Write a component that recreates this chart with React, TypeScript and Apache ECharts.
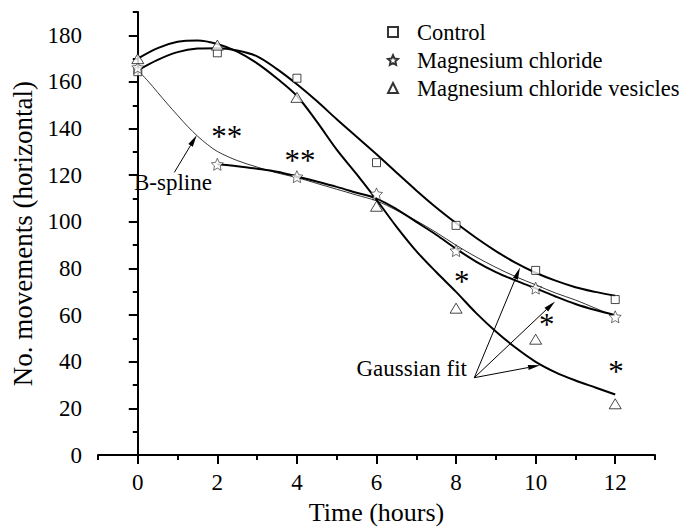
import React, { useEffect, useRef } from "react";
import * as echarts from "echarts";

// Measured points
const hours = [0, 2, 4, 6, 8, 10, 12];
const control = [164.4, 172.5, 161.6, 125.4, 98.5, 79.2, 66.7];
const mgChloride = [166.2, 124.7, 119.4, 112.0, 87.7, 71.6, 59.3];
const mgVesicles = [170.0, 175.8, 153.4, 106.7, 63.0, 49.7, 22.0];

// Gaussian fit curves
const fitX = [0, 0.5, 1, 1.5, 2, 2.5, 3, 3.5, 4, 4.5, 5, 5.5, 6, 6.5, 7, 7.5, 8, 8.5, 9, 9.5, 10, 10.5, 11, 11.5, 12];
const controlFit = [165, 169.5, 172.8, 174.3, 174.5, 173.5, 171, 165.5, 159, 151.8, 144, 136.5, 129, 121.2, 113.5, 106.2, 99.5, 93.2, 87.5, 82.4, 78.2, 74.8, 72, 70, 68.3];
const vesiclesFit = [170, 174.5, 177.2, 177.8, 176.3, 173, 168, 161.5, 154, 143, 131, 120.5, 109.5, 98, 87.5, 78.5, 70, 61, 53, 46, 40, 35.5, 32, 29, 26];
const chlorideFitX = [2, 2.5, 3, 3.5, 4, 4.5, 5, 5.5, 6, 6.5, 7, 7.5, 8, 8.5, 9, 9.5, 10, 10.5, 11, 11.5, 12];
const chlorideFit = [124.7, 123.9, 122.8, 121.5, 119.5, 117.3, 115, 112.5, 110, 105.5, 100, 94.5, 88.5, 83, 78.5, 74.8, 71.5, 68, 64.8, 62.2, 60];

// B-spline through Magnesium chloride points
const bsplineX = [0, 0.25, 0.5, 0.75, 1, 1.25, 1.5, 1.75, 2, 2.5, 3, 3.5, 4, 4.5, 5, 5.5, 6, 6.5, 7, 7.5, 8, 8.5, 9, 9.5, 10, 10.5, 11, 11.5, 12];
const bspline = [165, 160.5, 155.5, 150.5, 145.7, 141, 136.8, 133.2, 130.2, 126.3, 123.5, 121, 119, 116.5, 114, 111.5, 109, 105, 100.5, 95.5, 90, 85, 80.5, 76.5, 73, 69.5, 66.5, 63, 59.5];

// Axis ticks
const xMajorTicks = [0, 2, 4, 6, 8, 10, 12];
const xMinorTicks = [-1, 1, 3, 5, 7, 9, 11, 13];
const yMajorTicks = [0, 20, 40, 60, 80, 100, 120, 140, 160, 180];
const yMinorTicks = [10, 30, 50, 70, 90, 110, 130, 150, 170, 190];

const seriesNames = ["Control", "Magnesium chloride", "Magnesium chloride vesicles"];

// Annotations (data coordinates)
const noteLabels = ["**", "**", "*", "*", "*", "B-spline", "Gaussian fit"];
const noteX = [2.235, 4.077, 8.142, 10.278, 12.02, 0.885, 6.885];
const noteY = [136.8, 126.3, 74.3, 56.0, 35.9, 116.8, 37.2];

// Arrows: [fromX, fromY, toX, toY]
const arrows = [
  [0.918, 121.2, 1.481, 137.2],
  [8.458, 33.2, 9.607, 80.4],
  [8.458, 33.2, 10.487, 65.9],
  [8.458, 33.2, 10.11, 38.5],
];

const FONT = "Liberation Serif";
const STAR = "path://M50,0 L64.11,30.58 L97.55,34.55 L72.83,57.42 L79.39,90.45 L50,74 L20.61,90.45 L27.17,57.42 L2.45,34.55 L35.89,30.58 Z";

const pairs = (xs: number[], ys: number[]) => xs.map((x, i) => [x, ys[i]]);

export default function App() {
  const ref = useRef<HTMLDivElement>(null);
  useEffect(() => {
    if (!ref.current) return;
    document.body.style.margin = "0";
    const chart = echarts.init(ref.current, null, { renderer: "svg" });
    const markerStyle = { color: "#fff", borderColor: "#000", borderWidth: 0.9 };
    const fitLine = (data: number[][], width: number) => ({
      type: "line",
      data,
      smooth: 0.35,
      symbol: "none",
      showSymbol: false,
      silent: true,
      z: 2,
      lineStyle: { color: "#000", width },
    });
    const axisCommon = {
      type: "value",
      axisLine: { show: true, lineStyle: { color: "#000", width: 2 } },
      splitLine: { show: false },
    };
    chart.setOption({
      animation: false,
      backgroundColor: "#fff",
      textStyle: { fontFamily: FONT, color: "#000" },
      grid: { left: 98, top: 12, right: 30, bottom: 68, containLabel: false },
      legend: {
        data: seriesNames,
        orient: "vertical",
        left: 382,
        top: 13,
        itemWidth: 10,
        itemHeight: 10,
        itemGap: 0,
        selectedMode: false,
        textStyle: { fontFamily: FONT, fontSize: 22.5, color: "#000", lineHeight: 28, padding: [0, 0, 0, 14] },
      },
      xAxis: [
        {
          ...axisCommon,
          min: -1,
          max: 13,
          name: "Time (hours)",
          nameLocation: "middle",
          nameGap: 38,
          nameTextStyle: { fontFamily: FONT, fontSize: 26, color: "#000" },
          axisTick: { show: true, customValues: xMajorTicks, length: 9, lineStyle: { color: "#000", width: 2 } },
          axisLabel: { customValues: xMajorTicks, margin: 16, fontFamily: FONT, fontSize: 23, color: "#000" },
        },
        {
          ...axisCommon,
          min: -1,
          max: 13,
          position: "bottom",
          axisLine: { show: false },
          axisTick: { show: true, customValues: xMinorTicks, length: 5, lineStyle: { color: "#000", width: 2 } },
          axisLabel: { show: false },
        },
      ],
      yAxis: [
        {
          ...axisCommon,
          min: 0,
          max: 190,
          name: "No. movements (horizontal)",
          nameLocation: "middle",
          nameGap: 60,
          nameTextStyle: { fontFamily: FONT, fontSize: 27, color: "#000" },
          axisTick: { show: true, customValues: yMajorTicks, length: 9, lineStyle: { color: "#000", width: 2 } },
          axisLabel: { customValues: yMajorTicks, margin: 16, fontFamily: FONT, fontSize: 23, color: "#000" },
        },
        {
          ...axisCommon,
          min: 0,
          max: 190,
          position: "left",
          axisLine: { show: false },
          axisTick: { show: true, customValues: yMinorTicks, length: 5, lineStyle: { color: "#000", width: 2 } },
          axisLabel: { show: false },
        },
      ],
      series: [
        fitLine(pairs(fitX, controlFit), 2),
        fitLine(pairs(fitX, vesiclesFit), 2),
        fitLine(pairs(chlorideFitX, chlorideFit), 2),
        fitLine(pairs(bsplineX, bspline), 0.8),
        {
          name: seriesNames[0],
          type: "scatter",
          data: pairs(hours, control),
          symbol: "rect",
          symbolSize: 8,
          itemStyle: markerStyle,
          z: 4,
        },
        {
          name: seriesNames[1],
          type: "scatter",
          data: pairs(hours, mgChloride),
          symbol: STAR,
          symbolSize: 12,
          itemStyle: { color: "#fff", borderColor: "#000", borderWidth: 0.7 },
          z: 4,
        },
        {
          name: seriesNames[2],
          type: "scatter",
          data: pairs(hours, mgVesicles),
          symbol: "triangle",
          symbolSize: [12, 10],
          itemStyle: markerStyle,
          z: 4,
        },
        {
          type: "custom",
          silent: true,
          z: 5,
          data: arrows,
          encode: { x: [0, 2], y: [1, 3] },
          renderItem: (params: any, api: any) => {
            const p0 = api.coord([api.value(0), api.value(1)]);
            const p1 = api.coord([api.value(2), api.value(3)]);
            const dx = p1[0] - p0[0];
            const dy = p1[1] - p0[1];
            const len = Math.hypot(dx, dy);
            const ux = dx / len;
            const uy = dy / len;
            const hl = 12;
            const hw = 2.6;
            const bx = p1[0] - ux * hl;
            const by = p1[1] - uy * hl;
            return {
              type: "group",
              children: [
                { type: "line", shape: { x1: p0[0], y1: p0[1], x2: bx, y2: by }, style: { stroke: "#000", lineWidth: 1 } },
                {
                  type: "polygon",
                  shape: { points: [[p1[0], p1[1]], [bx - uy * hw, by + ux * hw], [bx + uy * hw, by - ux * hw]] },
                  style: { fill: "#000" },
                },
              ],
            };
          },
        },
        {
          type: "custom",
          silent: true,
          z: 5,
          data: pairs(noteX, noteY),
          renderItem: (params: any, api: any) => {
            const p = api.coord([api.value(0), api.value(1)]);
            const label = noteLabels[params.dataIndex];
            const isStar = label.indexOf("*") === 0;
            return {
              type: "text",
              x: p[0],
              y: p[1],
              style: {
                text: label,
                fontFamily: FONT,
                fontSize: isStar ? 31 : 23,
                fill: "#000",
                align: "center",
                verticalAlign: "middle",
              },
            };
          },
        },
      ],
    });
    return () => chart.dispose();
  }, []);
  return <div ref={ref} style={{ width: 685, height: 530 }} />;
}
